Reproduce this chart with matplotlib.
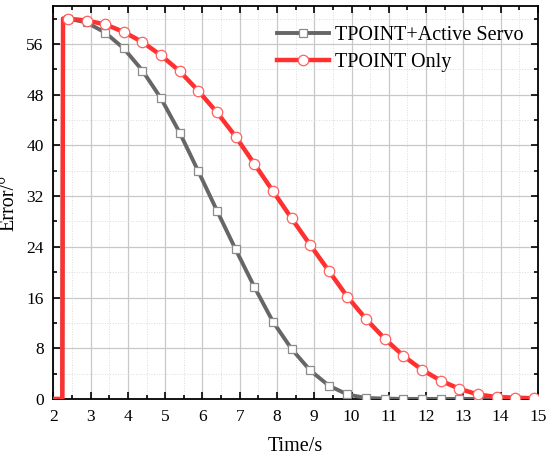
import matplotlib
matplotlib.use("Agg")
import matplotlib.pyplot as plt
from matplotlib.ticker import MultipleLocator
import numpy as np

time_s = [2.39 + 0.5 * k for k in range(26)]
tpoint_only = [60.0, 59.7, 59.1, 57.9, 56.3, 54.2, 51.7, 48.6, 45.2, 41.4, 37.1, 32.8, 28.5,
               24.3, 20.2, 16.1, 12.6, 9.5, 6.8, 4.6, 2.9, 1.6, 0.7, 0.3, 0.2, 0.1]
tpoint_servo = [60.0, 59.4, 57.8, 55.3, 51.8, 47.4, 42.0, 35.9, 29.7, 23.6, 17.7, 12.2, 7.9,
                4.5, 2.1, 0.7, 0.15, 0.05, 0.0, 0.0, 0.0, 0.0, 0.0, 0.0, 0.0, 0.0]
start_t = [2.0, 2.24, 2.26, 2.39]
start_v = [0.0, 0.0, 60.0, 60.0]

plt.rcParams['font.family'] = ['Liberation Serif', 'DejaVu Serif']
plt.rcParams['mathtext.fontset'] = 'stix'

fig = plt.figure(figsize=(5.5, 4.58), dpi=100)
ax = fig.add_axes([0.097, 0.129, 0.881, 0.858])

gray = '#666666'
red = '#ff3030'

ax.plot(start_t, start_v, color=gray, lw=2.8, zorder=3)
ax.plot(time_s, tpoint_servo, color=gray, lw=2.8, marker='s', ms=6,
        mfc='white', mec='#8c8c8c', mew=0.9, label='TPOINT+Active Servo', zorder=3)
ax.plot(start_t, start_v, color=red, lw=3.2, zorder=4)
ax.plot(time_s, tpoint_only, color=red, lw=3.2, marker='o', ms=7.5,
        mfc='white', mec='#ff6060', mew=0.9, label='TPOINT Only', zorder=4)

ax.set_xlim(2, 15)
ax.set_ylim(0, 62)
ax.xaxis.set_major_locator(MultipleLocator(1))
ax.xaxis.set_minor_locator(MultipleLocator(0.5))
ax.yaxis.set_major_locator(MultipleLocator(8))
ax.yaxis.set_minor_locator(MultipleLocator(4))
ax.tick_params(which='both', direction='in', top=True, right=True, width=1.2)
ax.tick_params(which='major', length=5, labelsize=12.5, pad=7)
ax.tick_params(which='minor', length=3)
ax.grid(which='major', color='#c8c8c8', lw=0.9)
ax.grid(which='minor', color='#dcdcdc', lw=0.7, ls=':')
ax.set_axisbelow(True)
for s in ax.spines.values():
    s.set_linewidth(1.3)

ax.set_xlabel('Time/s', fontsize=14.5)
ax.set_ylabel('Error/°', fontsize=14.5)
ax.xaxis.set_label_coords(0.5, -0.098)
ax.yaxis.set_label_coords(-0.072, 0.5)

leg = ax.legend(loc='upper right', frameon=False, fontsize=14.5, handlelength=2.6,
                handletextpad=0.3, labelspacing=0.4, borderaxespad=0.3,
                bbox_to_anchor=(1.0, 0.985))

fig.savefig('out.png', dpi=100)
